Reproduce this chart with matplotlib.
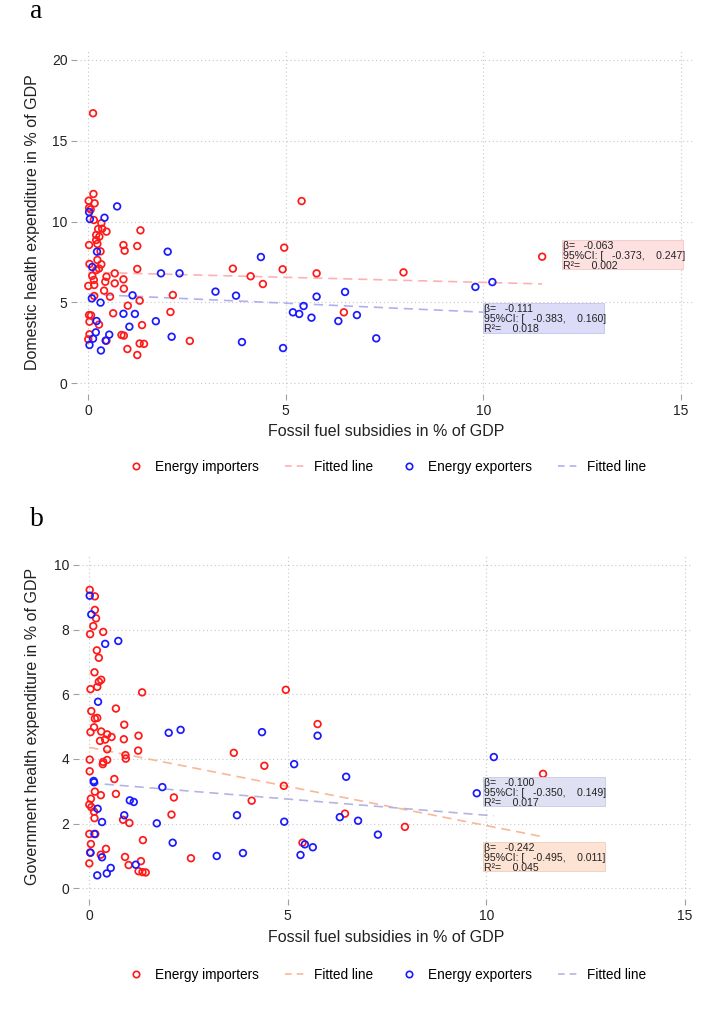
import numpy as np
import matplotlib
matplotlib.use("Agg")
import matplotlib.pyplot as plt
from matplotlib.lines import Line2D
from matplotlib.patches import Rectangle
from matplotlib.transforms import offset_copy

plt.rcParams['font.family'] = ['Liberation Sans', 'DejaVu Sans']

# ---------------- Panel a data ----------------
a_imp_x = [0.12, 0.13, 0.01, 0.16, 0.02, 0.06, 0.14, 0.33, 0.25, 0.35, 0.46, 0.20, 0.28, 0.20,
           0.23, 0.02, 0.89, 1.24, 0.92, 1.32, 0.31, 0.23, 0.03, 0.33, 0.27, 0.20, 1.24, 0.10,
           0.46, 0.67, 0.14, 0.43, 0.89, 0.67, 0.00, 0.15, 0.90, 0.40, 0.55, 2.14, 1.30, 1.00,
           2.08, 0.63, 0.02, 0.07, 0.03, 0.27, 1.36, 0.03, 0.84, 0.90, 0.00, 0.46, 2.57, 1.30,
           1.41, 0.99, 1.24, 3.66, 4.11, 4.42, 4.92, 4.96, 5.40, 5.78, 6.47, 7.98, 11.49, 0.15]
a_imp_y = [16.70, 11.71, 11.29, 11.13, 10.85, 10.75, 10.10, 9.90, 9.54, 9.56, 9.38, 9.17, 9.07, 8.86,
           8.62, 8.55, 8.55, 8.49, 8.20, 9.46, 8.16, 7.63, 7.38, 7.36, 7.10, 7.00, 7.07, 6.65,
           6.59, 6.80, 6.39, 6.28, 6.43, 6.18, 6.02, 6.08, 5.85, 5.73, 5.36, 5.46, 5.11, 4.80,
           4.41, 4.33, 4.22, 4.20, 3.81, 3.63, 3.60, 3.03, 2.99, 2.95, 2.72, 2.64, 2.62, 2.46,
           2.44, 2.12, 1.75, 7.09, 6.62, 6.14, 7.05, 8.39, 11.27, 6.80, 4.39, 6.86, 7.83, 5.40]
a_exp_x = [0.02, 0.04, 0.41, 0.73, 0.22, 0.10, 0.09, 0.31, 0.21, 0.19, 0.12, 0.03, 0.32, 0.44,
           0.53, 0.89, 1.12, 1.18, 1.04, 1.71, 1.84, 2.01, 2.11, 2.31, 3.22, 3.74, 3.89, 4.37,
           4.93, 5.18, 5.34, 5.45, 5.65, 5.78, 6.33, 6.50, 6.80, 7.29, 9.80, 10.23]
a_exp_y = [10.59, 10.16, 10.24, 10.94, 8.14, 7.19, 5.25, 4.99, 3.85, 3.15, 2.76, 2.37, 2.03, 2.64,
           3.01, 4.30, 5.44, 4.29, 3.50, 3.84, 6.80, 8.14, 2.88, 6.80, 5.67, 5.42, 2.55, 7.81,
           2.18, 4.39, 4.29, 4.78, 4.06, 5.36, 3.85, 5.65, 4.22, 2.78, 5.96, 6.26]
a_fit_beta = [-0.063, -0.111]
a_fit_icpt = [6.87, 5.51]
a_stats = [["β=   -0.063", "95%CI: [   -0.373,    0.247]", "R²=    0.002"],
           ["β=   -0.111", "95%CI: [   -0.383,    0.160]", "R²=    0.018"]]

# ---------------- Panel b data ----------------
b_imp_x = [0.01, 0.14, 0.14, 0.17, 0.10, 0.02, 0.35, 0.19, 0.24, 0.13, 0.30, 0.24, 0.03, 0.20,
           1.33, 0.67, 0.05, 0.14, 0.20, 0.88, 0.12, 0.03, 0.30, 0.45, 0.56, 0.40, 0.27, 0.87,
           1.24, 1.23, 0.45, 0.91, 0.92, 0.01, 0.45, 0.35, 0.34, 0.01, 0.63, 0.14, 0.67, 0.29,
           0.04, 0.00, 0.05, 0.12, 0.13, 2.13, 2.07, 0.85, 1.01, 0.00, 0.15, 0.04, 1.35, 0.02,
           0.29, 0.42, 0.90, 0.00, 0.99, 1.30, 1.24, 1.34, 1.42, 2.56, 3.64, 4.09, 4.41, 4.90,
           4.95, 5.75, 5.37, 6.44, 7.95, 11.43]
b_imp_y = [9.23, 9.03, 8.61, 8.35, 8.11, 7.86, 7.93, 7.36, 7.13, 6.68, 6.45, 6.39, 6.16, 6.23,
           6.06, 5.56, 5.48, 5.25, 5.27, 5.06, 4.98, 4.83, 4.85, 4.76, 4.68, 4.60, 4.56, 4.61,
           4.72, 4.26, 4.30, 4.12, 4.01, 3.98, 3.97, 3.91, 3.84, 3.62, 3.38, 2.99, 2.92, 2.88,
           2.77, 2.59, 2.51, 2.37, 2.17, 2.81, 2.28, 2.12, 2.02, 1.68, 1.68, 1.37, 1.49, 1.11,
           1.04, 1.22, 0.97, 0.77, 0.72, 0.84, 0.53, 0.50, 0.49, 0.93, 4.19, 2.71, 3.79, 3.17,
           6.14, 5.08, 1.41, 2.31, 1.90, 3.54]
b_exp_x = [0.01, 0.05, 0.40, 0.73, 0.22, 0.11, 0.12, 0.21, 0.32, 0.13, 0.03, 0.32, 0.20, 0.44,
           0.54, 1.17, 0.88, 1.02, 1.12, 1.70, 1.84, 2.00, 2.30, 2.10, 3.21, 3.72, 3.87, 4.35,
           4.91, 5.16, 5.32, 5.43, 5.63, 5.75, 6.47, 6.31, 6.77, 7.27, 9.76, 10.19]
b_exp_y = [9.05, 8.47, 7.56, 7.65, 5.77, 3.32, 3.28, 2.46, 2.05, 1.68, 1.10, 0.96, 0.40, 0.46,
           0.63, 0.73, 2.26, 2.72, 2.67, 2.01, 3.13, 4.81, 4.90, 1.41, 1.00, 2.26, 1.09, 4.83,
           2.06, 3.84, 1.03, 1.36, 1.27, 4.72, 3.45, 2.20, 2.09, 1.66, 2.94, 4.06]
b_fit_beta = [-0.242, -0.100]
b_fit_icpt = [4.36, 3.26]
b_stats = [["β=   -0.242", "95%CI: [   -0.495,    0.011]", "R²=    0.045"],
           ["β=   -0.100", "95%CI: [   -0.350,    0.149]", "R²=    0.017"]]

x_ticks = [0, 5, 10, 15]
a_yticks = [0, 5, 10, 15, 20]
b_yticks = [0, 2, 4, 6, 8, 10]
legend_labels = ["Energy importers", "Fitted line", "Energy exporters", "Fitted line"]

RED = "#ff1a1a"
BLUE = "#1a1aff"

W, H = 709, 1010
fig = plt.figure(figsize=(W / 100, H / 100), dpi=100)


def px_axes(l, t, r, b):
    return fig.add_axes([l / W, 1 - b / H, (r - l) / W, (b - t) / H])


def style(ax, yticks, xlim, ylim):
    ax.set_xlim(*xlim)
    ax.set_ylim(*ylim)
    ax.set_xticks(x_ticks)
    ax.set_yticks(yticks)
    for s in ['top', 'right']:
        ax.spines[s].set_visible(False)
    ax.spines['left'].set_position(('outward', 2))
    ax.spines['bottom'].set_position(('outward', 2.2))
    ax.spines['left'].set_visible(False)
    ax.spines['bottom'].set_visible(False)
    ax.tick_params(axis='both', direction='out', color='#a0a0a0', width=0.8,
                   labelsize=10, labelcolor='#222222')
    ax.tick_params(axis='x', length=4.5, pad=3)
    ax.tick_params(axis='y', length=4, pad=3)
    ax.grid(True, color='#c8c8c8', linestyle=(0, (1, 2.5)), linewidth=0.8)
    ax.set_axisbelow(True)


def draw_panel(ax, imp_x, imp_y, exp_x, exp_y, betas, icpts, fit_colors):
    ax.scatter(imp_x, imp_y, s=23, facecolors='none', edgecolors=RED, linewidths=1.25, zorder=3)
    ax.scatter(exp_x, exp_y, s=23, facecolors='none', edgecolors=BLUE, linewidths=1.25, zorder=3)
    for xs, b, c, col in ((imp_x, betas[0], icpts[0], fit_colors[0]),
                          (exp_x, betas[1], icpts[1], fit_colors[1])):
        xx = np.array([min(xs), max(xs)])
        ax.plot(xx, c + b * xx, color=col, linestyle=(0, (5.5, 3.5)), linewidth=1.2, zorder=2)


def stat_box(ax, x0, ytop, ybot, width, lines, face, edge):
    ax.add_patch(Rectangle((x0, ybot), width, ytop - ybot, facecolor=face, edgecolor=edge,
                           linewidth=0.6, zorder=4))
    for i, s in enumerate(lines):
        tr = offset_copy(ax.transData, fig=fig, x=0.5, y=-(6.3 + i * 9.7), units='dots')
        ax.text(x0, ytop, s, transform=tr, fontsize=7.6, color='#222222', ha='left',
                va='center', zorder=5)


def legend(y_px, fit_colors):
    handles = [
        Line2D([], [], marker='o', linestyle='none', markerfacecolor='none',
               markeredgecolor=RED, markersize=4.6, markeredgewidth=1.2),
        Line2D([], [], color=fit_colors[0], linestyle=(0, (4, 3)), linewidth=1.2),
        Line2D([], [], marker='o', linestyle='none', markerfacecolor='none',
               markeredgecolor=BLUE, markersize=4.6, markeredgewidth=1.2),
        Line2D([], [], color=fit_colors[1], linestyle=(0, (4, 3)), linewidth=1.2),
    ]
    fig.legend(handles, legend_labels, loc='center', bbox_to_anchor=(386 / W, 1 - y_px / H),
               ncol=4, frameon=False, fontsize=9.8, handlelength=1.5, columnspacing=1.9,
               handletextpad=0.65)


# ---------------- Panel a ----------------
axa = px_axes(80, 49, 693, 391)
style(axa, a_yticks, (-0.210, 15.309), (-0.476, 20.674))
fit_a_cols = ["#ffb0b0", "#b0b0f0"]
draw_panel(axa, a_imp_x, a_imp_y, a_exp_x, a_exp_y, a_fit_beta, a_fit_icpt, fit_a_cols)
stat_box(axa, 12.0, 8.86, 7.07, 3.06, a_stats[0], "#fde1e1", "#f5c5c5")
stat_box(axa, 10.0, 4.97, 3.11, 3.06, a_stats[1], "#dcdcf8", "#c4c4ee")
fig.text(386 / W, 1 - 432 / H, "Fossil fuel subsidies in % of GDP", ha='center', va='center',
         fontsize=11.5, color='#222222')
fig.text(33 / W, 1 - 222 / H, "Domestic health expenditure in % of GDP", ha='center',
         va='center', rotation=90, fontsize=11.5, color='#222222')
legend(467, fit_a_cols)
fig.text(30 / W, 1 - 12 / H, "a", fontsize=20, family='Liberation Serif', ha='left', va='center')

# ---------------- Panel b ----------------
axb = px_axes(82, 555, 693, 896)
style(axb, b_yticks, (-0.184, 15.207), (-0.238, 10.309))
fit_b_cols = ["#f8b898", "#b4b4e4"]
draw_panel(axb, b_imp_x, b_imp_y, b_exp_x, b_exp_y, b_fit_beta, b_fit_icpt, fit_b_cols)
stat_box(axb, 9.92, 3.44, 2.55, 3.07, b_stats[1], "#dfe0f1", "#c8c9e6")
stat_box(axb, 9.92, 1.43, 0.54, 3.07, b_stats[0], "#fde3d4", "#f4cdb8")
fig.text(386 / W, 1 - 937 / H, "Fossil fuel subsidies in % of GDP", ha='center', va='center',
         fontsize=11.5, color='#222222')
fig.text(33 / W, 1 - 726 / H, "Government health expenditure in % of GDP", ha='center',
         va='center', rotation=90, fontsize=11.5, color='#222222')
legend(975, fit_b_cols)
fig.text(30 / W, 1 - 520 / H, "b", fontsize=20, family='Liberation Serif', ha='left', va='center')

fig.savefig("out.png", dpi=100)
